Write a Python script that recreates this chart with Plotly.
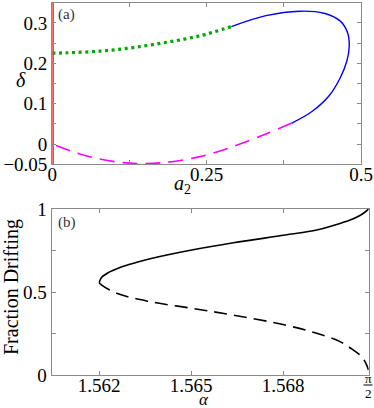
import math
import plotly.graph_objects as go

# ---------------- Panel (a) data ----------------
red_x = [0.0, 0.0]
red_y = [-0.05, 0.35]

green_x = [0.0, 0.023, 0.077, 0.131, 0.185, 0.239, 0.290]
green_y = [0.225, 0.226, 0.230, 0.239, 0.252, 0.268, 0.291]

blue_x = [0.290, 0.346, 0.401, 0.440, 0.466, 0.478, 0.481, 0.477, 0.466, 0.448, 0.420, 0.388]
blue_y = [0.291, 0.318, 0.329, 0.324, 0.305, 0.277, 0.244, 0.205, 0.163, 0.119, 0.080, 0.052]

mag_x = [0.388, 0.346, 0.293, 0.239, 0.185, 0.145, 0.104, 0.050, 0.0]
mag_y = [0.052, 0.025, -0.006, -0.031, -0.045, -0.048, -0.044, -0.027, 0.0]

a_xticks = [0, 0.25, 0.5]
a_xticklabels = ["0", "0.25", "0.5"]
a_yticks = [-0.05, 0, 0.1, 0.2, 0.3]
a_yticklabels = ["\u22120.05", "0", "0.1", "0.2", "0.3"]

# ---------------- Panel (b) data ----------------
HALF_PI = math.pi / 2
solid_alpha = [1.56200, 1.56207, 1.56229, 1.56266, 1.56318, 1.56370, 1.56502, 1.56638, 1.56807,
               1.56910, 1.56964, 1.57019, 1.57051, 1.57068, HALF_PI]
solid_f = [0.556, 0.586, 0.616, 0.646, 0.676, 0.702, 0.753, 0.797, 0.843,
           0.873, 0.901, 0.934, 0.961, 0.982, 1.000]

dash_alpha = [1.56200, 1.56206, 1.56257, 1.56366, 1.56502, 1.56638, 1.56807, 1.56910, 1.56986,
              1.57029, 1.57057, 1.57073, 1.57079]
dash_f = [0.556, 0.545, 0.492, 0.442, 0.402, 0.361, 0.301, 0.251, 0.201,
          0.151, 0.110, 0.060, 0.030]

b_xticks = [1.562, 1.565, 1.568]
b_xticklabels = ["1.562", "1.565", "1.568"]
b_end_label = ("π", "2")  # π/2 at the right end of the alpha axis
b_yticks = [0, 0.5, 1]
b_yticklabels = ["0", "0.5", "1"]

W, H = 374, 408
FONT = "Liberation Serif"
FRAME = "#8a8a8a"

fig = go.Figure()

fig.add_trace(go.Scatter(x=green_x, y=green_y, mode="lines", line=dict(color="#00aa00", width=3.2, dash="3px,3.6px", shape="spline"),
                         xaxis="x", yaxis="y", showlegend=False))
fig.add_trace(go.Scatter(x=blue_x, y=blue_y, mode="lines", line=dict(color="#0000ff", width=1.4, shape="spline"),
                         xaxis="x", yaxis="y", showlegend=False))
fig.add_trace(go.Scatter(x=mag_x, y=mag_y, mode="lines", line=dict(color="#ff00ff", width=1.6, dash="15px,8px", shape="spline"),
                         xaxis="x", yaxis="y", showlegend=False))
fig.add_trace(go.Scatter(x=red_x, y=red_y, mode="lines", line=dict(color="#ff3030", width=3.2),
                         xaxis="x", yaxis="y", showlegend=False, cliponaxis=False))

fig.add_trace(go.Scatter(x=solid_alpha, y=solid_f, mode="lines", line=dict(color="black", width=1.6, shape="spline"),
                         xaxis="x2", yaxis="y2", showlegend=False))
fig.add_trace(go.Scatter(x=dash_alpha, y=dash_f, mode="lines", line=dict(color="black", width=1.6, dash="13px,7px", shape="spline"),
                         xaxis="x2", yaxis="y2", showlegend=False))

axis_common = dict(showgrid=False, zeroline=False, showline=True, linecolor=FRAME, linewidth=1.3,
                   mirror="ticks", ticks="inside", ticklen=4, tickcolor=FRAME, tickwidth=1,
                   tickfont=dict(family=FONT, size=19, color="black"))

fig.update_layout(
    width=W, height=H, margin=dict(l=0, r=0, t=0, b=0, autoexpand=False), autosize=False,
    paper_bgcolor="white", plot_bgcolor="white",
    xaxis=dict(domain=[52.3 / W, 361 / W], range=[0, 0.5], anchor="y",
               tickvals=a_xticks, ticktext=a_xticklabels, ticklabelstandoff=-7,
               minor=dict(dtick=0.125, ticks="inside", ticklen=4, tickcolor=FRAME, showgrid=False), **axis_common),
    yaxis=dict(domain=[1 - 164.3 / H, 1 - 2.7 / H], range=[-0.05, 0.35], anchor="x",
               tickvals=a_yticks, ticktext=a_yticklabels,
               minor=dict(dtick=0.05, tick0=0, ticks="inside", ticklen=4, tickcolor=FRAME, showgrid=False), **axis_common),
    xaxis2=dict(domain=[51.7 / W, 368.7 / W], range=[1.56045, HALF_PI], anchor="y2",
                tickvals=b_xticks, ticktext=b_xticklabels, ticklabelstandoff=-7, **axis_common),
    yaxis2=dict(domain=[1 - 375 / H, 1 - 209 / H], range=[0, 1], anchor="x2",
                tickvals=b_yticks, ticktext=b_yticklabels,
                minor=dict(dtick=0.25, tick0=0, ticks="inside", ticklen=4, tickcolor=FRAME, showgrid=False), **axis_common),
)

def px_ann(text, x, y, size, **kw):
    fig.add_annotation(text=text, x=x / W, y=1 - y / H, xref="paper", yref="paper",
                       xanchor="center", yanchor="middle",
                       showarrow=False, font=dict(family=FONT, size=size, color=kw.pop("color", "black")), **kw)

px_ann("(a)", 66, 15, 15, color="#333333")
px_ann("(b)", 67, 223, 15, color="#333333")
px_ann("<i>δ</i>", 21, 80, 20)
px_ann("<i>a</i><sub>2</sub>", 182, 185, 20)
px_ann("<i>α</i>", 204, 399, 17)
px_ann("Fraction Drifting", 11, 287, 20, textangle=-90)
# pi/2 tick label as stacked fraction
px_ann(b_end_label[0], 368, 378, 13)
px_ann(b_end_label[1], 368, 393, 13)
fig.add_shape(type="line", xref="paper", yref="paper", x0=363.5 / W, x1=372.5 / W,
              y0=1 - 385 / H, y1=1 - 385 / H, line=dict(color="black", width=1))

fig.write_html("out.html", config={"responsive": False, "displayModeBar": False},
               post_script="document.body.style.margin='0';document.body.style.overflow='hidden';")
